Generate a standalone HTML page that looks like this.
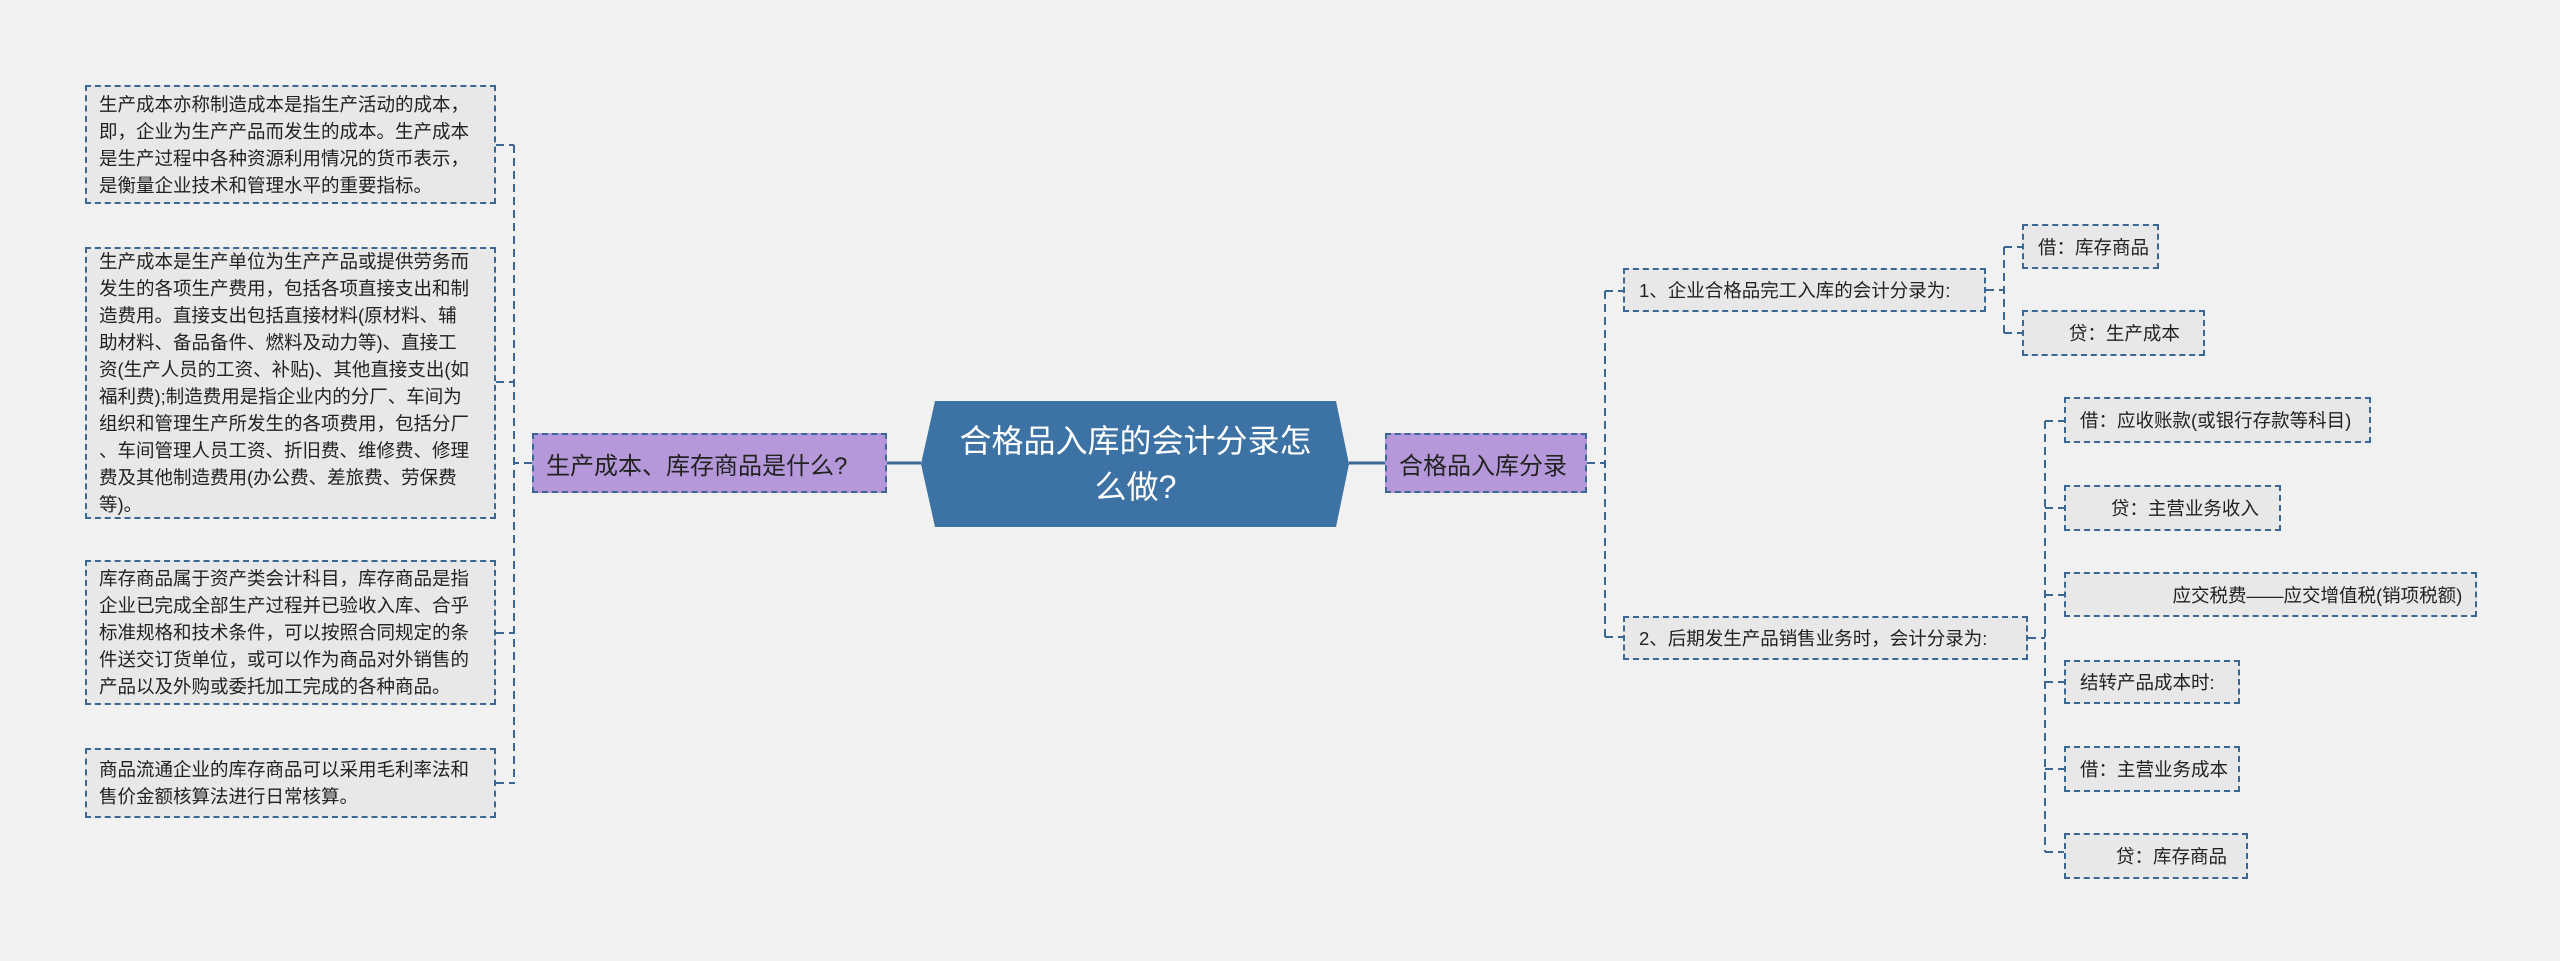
<!DOCTYPE html>
<html><head><meta charset="utf-8"><style>
body{margin:0;width:2560px;height:961px;background:#f1f1f1;position:relative;overflow:hidden;font-family:"Liberation Sans","Noto Sans CJK SC",sans-serif;}
.b{position:absolute;box-sizing:border-box;border:2px dashed #3a6794;background:#e8e8e8;color:#222;display:flex;align-items:center;}
.l{font-size:18.5px;line-height:27px;padding:0 12px 0 12px;}
.s{font-size:18.5px;padding-left:14px;white-space:pre;}
.p{background:#b598d9;font-size:24px;padding-left:12px;white-space:nowrap;}
svg{position:absolute;left:0;top:0}
</style></head><body>
<svg width="2560" height="961">
<polygon points="921,464 935,401 1336,401 1349,464 1336,527 935,527" fill="#3d72a4"/>
<g stroke="#3a6794" stroke-width="2" fill="none">
<line x1="887" y1="463" x2="921" y2="463" stroke-width="3"/>
<line x1="1349" y1="463" x2="1385" y2="463" stroke-width="3"/>
<g stroke-dasharray="8,5">
<path d="M532,463 H514 M514,145 V784 M496,145 H514 M496,382 H514 M496,633 H514 M496,783 H514"/>
<path d="M1587,463 H1605 M1605,291 V637 M1605,291 H1623 M1605,637 H1623"/>
<path d="M1986,290 H2004 M2004,247 V333 M2004,247 H2022 M2004,333 H2022"/>
<path d="M2028,638 H2045 M2045,421 V852 M2045,421 H2064 M2045,508 H2064 M2045,595 H2064 M2045,682 H2064 M2045,769 H2064 M2045,852 H2064"/>
</g></g>
</svg>
<div style="position:absolute;left:935px;top:401px;width:401px;height:126px;display:flex;align-items:center;justify-content:center;text-align:center;color:#fff;font-size:32px;line-height:46px;padding:0 20px;box-sizing:border-box">合格品入库的会计分录怎么做?</div>
<div class="b p" style="left:532px;top:433px;width:355px;height:60px">生产成本、库存商品是什么?</div>
<div class="b p" style="left:1385px;top:433px;width:202px;height:60px">合格品入库分录</div>
<div class="b l" style="left:85px;top:85px;width:411px;height:119px">生产成本亦称制造成本是指生产活动的成本，即，企业为生产产品而发生的成本。生产成本是生产过程中各种资源利用情况的货币表示，是衡量企业技术和管理水平的重要指标。</div>
<div class="b l" style="left:85px;top:247px;width:411px;height:272px;white-space:nowrap"><div>生产成本是生产单位为生产产品或提供劳务而<br>发生的各项生产费用，包括各项直接支出和制<br>造费用。直接支出包括直接材料(原材料、辅<br>助材料、备品备件、燃料及动力等)、直接工<br>资(生产人员的工资、补贴)、其他直接支出(如<br>福利费);制造费用是指企业内的分厂、车间为<br>组织和管理生产所发生的各项费用，包括分厂<br>、车间管理人员工资、折旧费、维修费、修理<br>费及其他制造费用(办公费、差旅费、劳保费<br>等)。</div></div>
<div class="b l" style="left:85px;top:560px;width:411px;height:145px">库存商品属于资产类会计科目，库存商品是指企业已完成全部生产过程并已验收入库、合乎标准规格和技术条件，可以按照合同规定的条件送交订货单位，或可以作为商品对外销售的产品以及外购或委托加工完成的各种商品。</div>
<div class="b l" style="left:85px;top:748px;width:411px;height:70px">商品流通企业的库存商品可以采用毛利率法和售价金额核算法进行日常核算。</div>
<div class="b s" style="left:1623px;top:268px;width:363px;height:44px">1、企业合格品完工入库的会计分录为:</div>
<div class="b s" style="left:1623px;top:616px;width:405px;height:44px">2、后期发生产品销售业务时，会计分录为:</div>
<div class="b s" style="left:2022px;top:224px;width:137px;height:45px">借：库存商品</div>
<div class="b s" style="left:2022px;top:310px;width:183px;height:46px">      贷：生产成本</div>
<div class="b s" style="left:2064px;top:397px;width:307px;height:46px">借：应收账款(或银行存款等科目)</div>
<div class="b s" style="left:2064px;top:485px;width:217px;height:46px">      贷：主营业务收入</div>
<div class="b s" style="left:2064px;top:572px;width:413px;height:45px">                  应交税费——应交增值税(销项税额)</div>
<div class="b s" style="left:2064px;top:660px;width:176px;height:44px">结转产品成本时:</div>
<div class="b s" style="left:2064px;top:746px;width:176px;height:46px">借：主营业务成本</div>
<div class="b s" style="left:2064px;top:833px;width:184px;height:46px">       贷：库存商品</div>
</body></html>
